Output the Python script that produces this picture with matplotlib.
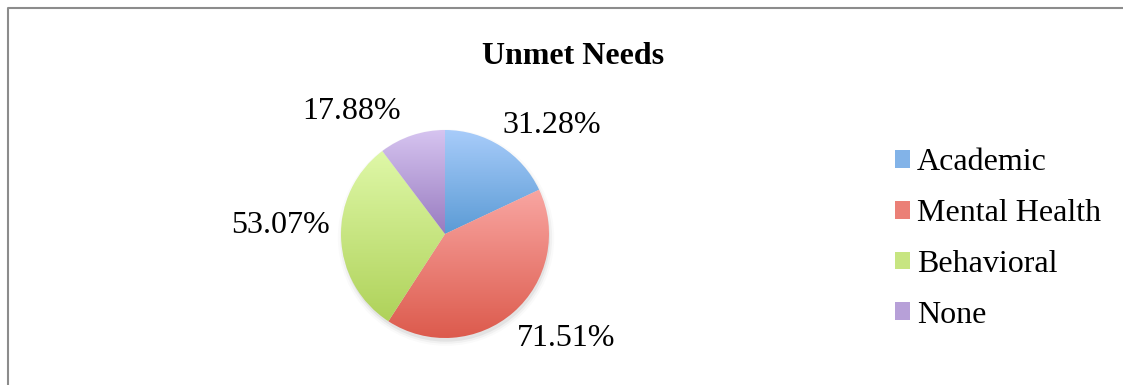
import numpy as np
import matplotlib
matplotlib.use("Agg")
import matplotlib.pyplot as plt
from matplotlib.colors import to_rgb
from matplotlib.lines import Line2D
from matplotlib.patches import Patch, Circle

plt.rcParams['font.family'] = ['Liberation Serif', 'DejaVu Serif']

categories = ["Academic", "Mental Health", "Behavioral", "None"]
values = [31.28, 71.51, 53.07, 17.88]
top_colors = ["#A8CCFA", "#F9A6A2", "#DFF8A8", "#D6C4F0"]
bottom_colors = ["#5B9BD5", "#DC5A4C", "#AFD25A", "#987BC0"]

# label nudges (angle offset in degrees, distance in radii) to mimic excel best-fit
label_shift = [(-12, 1.46), (8, 1.54), (-5, 1.58), (19, 1.48)]

W, H = 1123, 385
fig = plt.figure(figsize=(W / 100, H / 100), dpi=100)

cx, cy, r = 445, 234, 104
ax = fig.add_axes([(cx - r) / W, (H - cy - r) / H, 2 * r / W, 2 * r / H])
ax.axis('off')

# soft shadow
for k, a in [(1.04, 0.04), (1.02, 0.07), (1.0, 0.12)]:
    ax.add_patch(Circle((0.01, -0.035), k, facecolor='gray', edgecolor='none',
                        alpha=a, zorder=0, clip_on=False))

wedges, _ = ax.pie(values, startangle=90, counterclock=False, radius=1,
                   wedgeprops=dict(edgecolor='none', linewidth=0))
ax.set_xlim(-1, 1)
ax.set_ylim(-1, 1)
ax.set_aspect('auto')

for w, c1, c2 in zip(wedges, top_colors, bottom_colors):
    v = w.get_path().vertices
    x0, x1 = v[:, 0].min(), v[:, 0].max()
    y0, y1 = v[:, 1].min(), v[:, 1].max()
    t = np.linspace(0, 1, 256)[:, None]
    g = (1 - t) * np.array(to_rgb(c1)) + t * np.array(to_rgb(c2))
    img = ax.imshow(g[:, None, :], extent=(x0, x1, y0, y1), origin='upper',
                    aspect='auto', interpolation='bilinear', zorder=2)
    img.set_clip_path(w)
    w.set_facecolor('none')

for w, val, (da, dist) in zip(wedges, values, label_shift):
    mid = np.deg2rad((w.theta1 + w.theta2) / 2 + da)
    ax.text(dist * np.cos(mid), dist * np.sin(mid), f"{val:.2f}%", fontsize=23,
            ha='center', va='center', clip_on=False, zorder=5)

fig.text(573 / W, (H - 56) / H, "Unmet Needs", fontsize=23, fontweight='bold',
         ha='center', va='center')

handles = [Patch(facecolor=tuple((np.array(to_rgb(a)) + np.array(to_rgb(b))) / 2),
                 edgecolor='none') for a, b in zip(top_colors, bottom_colors)]
fig.legend(handles, categories, loc='center left', bbox_to_anchor=(895 / W, (H - 239) / H),
           frameon=False, fontsize=23, handlelength=0.48, handleheight=0.48,
           handletextpad=0.2, labelspacing=0.68, borderpad=0, borderaxespad=0)

# chart area border (top and left visible)
fig.add_artist(Line2D([8 / W, 8 / W, 1], [0, (H - 8) / H, (H - 8) / H],
                      transform=fig.transFigure, color='#8c8c8c', linewidth=1.5))

fig.savefig("out.png", dpi=100)
